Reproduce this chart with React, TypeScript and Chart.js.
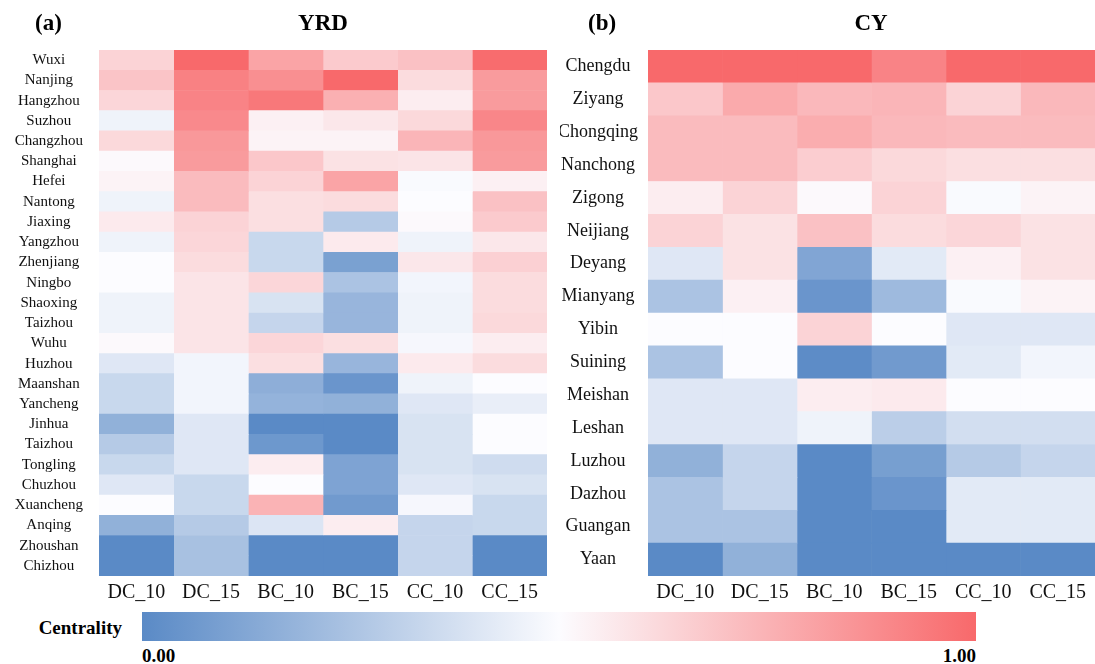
import React, { useEffect, useRef } from "react";
import { Chart, registerables } from "chart.js";

Chart.register(...registerables);

// Centrality metrics (columns of both heatmaps)
const metrics = ["DC_10", "DC_15", "BC_10", "BC_15", "CC_10", "CC_15"];

// Yangtze River Delta cities (rows, top to bottom)
const yrdCities = [
  "Wuxi", "Nanjing", "Hangzhou", "Suzhou", "Changzhou", "Shanghai", "Hefei",
  "Nantong", "Jiaxing", "Yangzhou", "Zhenjiang", "Ningbo", "Shaoxing", "Taizhou",
  "Wuhu", "Huzhou", "Maanshan", "Yancheng", "Jinhua", "Taizhou", "Tongling",
  "Chuzhou", "Xuancheng", "Anqing", "Zhoushan", "Chizhou",
];

// Normalised centrality per YRD city: DC_10, DC_15, BC_10, BC_15, CC_10, CC_15
const yrdCentrality = [
  [0.64, 1.0, 0.8, 0.67, 0.7, 0.99],
  [0.69, 0.92, 0.87, 1.0, 0.61, 0.83],
  [0.63, 0.91, 0.95, 0.76, 0.55, 0.83],
  [0.46, 0.89, 0.54, 0.57, 0.62, 0.9],
  [0.62, 0.84, 0.53, 0.53, 0.74, 0.84],
  [0.51, 0.83, 0.68, 0.59, 0.58, 0.83],
  [0.53, 0.72, 0.64, 0.8, 0.49, 0.54],
  [0.46, 0.72, 0.6, 0.61, 0.5, 0.7],
  [0.56, 0.64, 0.6, 0.28, 0.51, 0.67],
  [0.46, 0.63, 0.34, 0.56, 0.46, 0.57],
  [0.5, 0.61, 0.34, 0.1, 0.57, 0.65],
  [0.5, 0.58, 0.63, 0.25, 0.47, 0.61],
  [0.46, 0.58, 0.39, 0.19, 0.46, 0.61],
  [0.46, 0.58, 0.33, 0.19, 0.46, 0.62],
  [0.51, 0.58, 0.63, 0.6, 0.48, 0.55],
  [0.41, 0.47, 0.6, 0.19, 0.56, 0.61],
  [0.34, 0.47, 0.16, 0.05, 0.46, 0.5],
  [0.34, 0.47, 0.18, 0.17, 0.41, 0.44],
  [0.17, 0.41, 0.0, 0.0, 0.39, 0.5],
  [0.28, 0.41, 0.06, 0.0, 0.39, 0.5],
  [0.34, 0.41, 0.55, 0.11, 0.39, 0.36],
  [0.41, 0.34, 0.5, 0.11, 0.41, 0.39],
  [0.5, 0.34, 0.75, 0.07, 0.48, 0.34],
  [0.17, 0.28, 0.4, 0.55, 0.33, 0.34],
  [0.0, 0.24, 0.0, 0.0, 0.33, 0.0],
  [0.0, 0.24, 0.0, 0.0, 0.33, 0.0],
];

// Chengdu–Chongqing (CY) cities (rows, top to bottom)
const cyCities = [
  "Chengdu", "Ziyang", "Chongqing", "Nanchong", "Zigong", "Neijiang", "Deyang",
  "Mianyang", "Yibin", "Suining", "Meishan", "Leshan", "Luzhou", "Dazhou",
  "Guangan", "Yaan",
];

// Normalised centrality per CY city: DC_10, DC_15, BC_10, BC_15, CC_10, CC_15
const cyCentrality = [
  [1.0, 1.0, 1.0, 0.91, 1.0, 1.0],
  [0.68, 0.78, 0.73, 0.74, 0.64, 0.73],
  [0.72, 0.72, 0.77, 0.73, 0.72, 0.72],
  [0.72, 0.72, 0.66, 0.62, 0.6, 0.6],
  [0.55, 0.64, 0.51, 0.64, 0.49, 0.53],
  [0.64, 0.59, 0.7, 0.61, 0.63, 0.59],
  [0.41, 0.59, 0.12, 0.42, 0.54, 0.59],
  [0.25, 0.54, 0.05, 0.21, 0.49, 0.53],
  [0.5, 0.5, 0.64, 0.5, 0.41, 0.41],
  [0.25, 0.5, 0.01, 0.07, 0.42, 0.47],
  [0.41, 0.41, 0.55, 0.56, 0.5, 0.5],
  [0.41, 0.41, 0.46, 0.3, 0.37, 0.37],
  [0.17, 0.33, 0.0, 0.09, 0.28, 0.33],
  [0.25, 0.33, 0.0, 0.05, 0.42, 0.42],
  [0.25, 0.25, 0.0, 0.0, 0.42, 0.42],
  [0.0, 0.17, 0.0, 0.0, 0.0, 0.0],
];

// Colour-bar end labels
const scaleLabels = ["0.00", "1.00"];

const SERIF = "'Liberation Serif', 'Times New Roman', serif";
const LOW = [90, 138, 198];
const MID = [252, 252, 255];
const HIGH = [248, 105, 107];

// Diverging blue–white–red scale over [0, 1]
function centralityColor(v: number): string {
  const c = Math.max(0, Math.min(1, v));
  let a: number[], b: number[], t: number;
  if (c < 0.5) {
    a = LOW; b = MID; t = c / 0.5;
  } else {
    a = MID; b = HIGH; t = (c - 0.5) / 0.5;
  }
  const rgb = a.map((x, i) => Math.round(x + (b[i] - x) * t));
  return `rgb(${rgb[0]}, ${rgb[1]}, ${rgb[2]})`;
}

type PanelProps = {
  cities: string[];
  values: number[][];
  left: number;
  width: number;
  axisWidth: number;
  labelSize: number;
  labelPadding: number;
};

function HeatmapPanel({ cities, values, left, width, axisWidth, labelSize, labelPadding }: PanelProps) {
  const ref = useRef<HTMLCanvasElement | null>(null);

  useEffect(() => {
    if (!ref.current) return;
    const chart = new Chart(ref.current, {
      type: "bar",
      data: {
        labels: cities,
        datasets: metrics.map((m, j) => ({
          label: m,
          data: cities.map(() => 1),
          backgroundColor: values.map((row) => centralityColor(row[j])),
          borderWidth: 0,
          barPercentage: 1,
          categoryPercentage: 1,
        })),
      },
      options: {
        indexAxis: "y",
        animation: false,
        responsive: false,
        maintainAspectRatio: false,
        layout: { padding: { top: 50, left: 0, right: 0, bottom: 0 } },
        plugins: {
          legend: { display: false },
          tooltip: { enabled: false },
          title: { display: false },
        },
        scales: {
          x: {
            type: "linear",
            stacked: true,
            min: 0,
            max: metrics.length,
            position: "bottom",
            grid: { display: false, drawTicks: false },
            border: { display: false },
            afterBuildTicks: (scale: any) => {
              scale.ticks = metrics.map((_, i) => ({ value: i + 0.5 }));
            },
            ticks: {
              autoSkip: false,
              maxRotation: 0,
              padding: 5,
              color: "#111",
              font: { family: SERIF, size: 20 },
              callback: (_v: any, i: number) => metrics[i],
            },
            afterFit: (scale: any) => {
              scale.height = 34;
            },
          },
          y: {
            type: "category",
            stacked: true,
            grid: { display: false, drawTicks: false },
            border: { display: false },
            ticks: {
              autoSkip: false,
              crossAlign: "center",
              padding: labelPadding,
              color: "#111",
              font: { family: SERIF, size: labelSize },
            },
            afterFit: (scale: any) => {
              scale.width = axisWidth;
            },
          },
        },
      },
    } as any);
    return () => chart.destroy();
  }, [cities, values, axisWidth, labelSize, labelPadding]);

  return (
    <canvas
      ref={ref}
      width={width}
      height={610}
      style={{ position: "absolute", left, top: 0, display: "block" }}
    />
  );
}

const textBase: React.CSSProperties = {
  position: "absolute",
  fontFamily: SERIF,
  fontWeight: "bold",
  color: "#000",
  whiteSpace: "nowrap",
  lineHeight: "1",
};

export default function App() {
  return (
    <div
      style={{
        position: "absolute",
        left: 0,
        top: 0,
        width: 1095,
        height: 664,
        overflow: "hidden",
        background: "#fff",
      }}
    >
      <HeatmapPanel
        cities={yrdCities}
        values={yrdCentrality}
        left={0}
        width={547}
        axisWidth={99}
        labelSize={15}
        labelPadding={16}
      />
      <HeatmapPanel
        cities={cyCities}
        values={cyCentrality}
        left={560}
        width={535}
        axisWidth={88}
        labelSize={18}
        labelPadding={10}
      />

      <div style={{ ...textBase, left: 35, top: 11, fontSize: 23 }}>(a)</div>
      <div style={{ ...textBase, left: 223, width: 200, top: 11, fontSize: 23, textAlign: "center" }}>YRD</div>
      <div style={{ ...textBase, left: 588, top: 11, fontSize: 23 }}>(b)</div>
      <div style={{ ...textBase, left: 771, width: 200, top: 11, fontSize: 23, textAlign: "center" }}>CY</div>

      <div style={{ ...textBase, left: 0, width: 122, top: 618, fontSize: 19, textAlign: "right" }}>Centrality</div>
      <div
        style={{
          position: "absolute",
          left: 142,
          top: 612,
          width: 834,
          height: 29,
          background: `linear-gradient(to right, ${centralityColor(0)}, ${centralityColor(0.5)}, ${centralityColor(1)})`,
        }}
      />
      <div style={{ ...textBase, left: 142, top: 646, fontSize: 19 }}>{scaleLabels[0]}</div>
      <div style={{ ...textBase, left: 776, width: 200, top: 646, fontSize: 19, textAlign: "right" }}>{scaleLabels[1]}</div>
    </div>
  );
}
